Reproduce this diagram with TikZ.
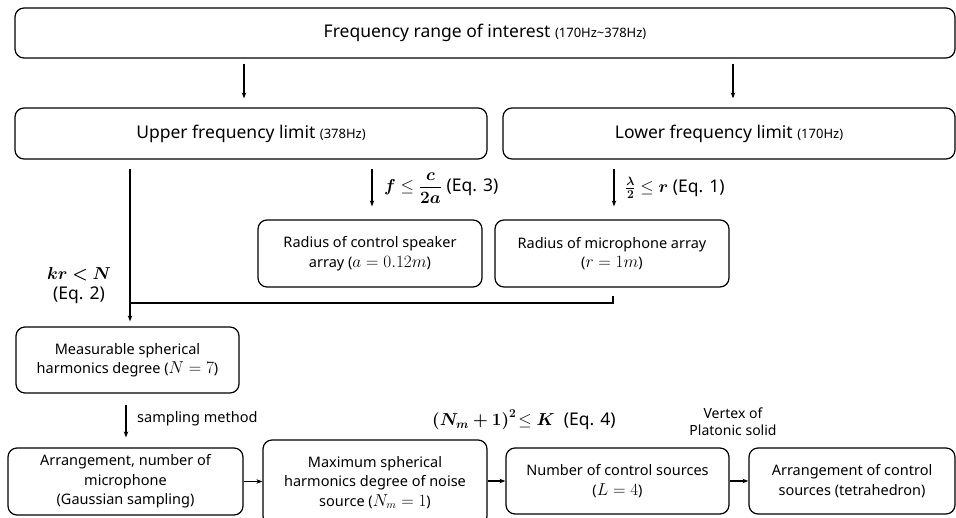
\documentclass[tikz,border=0pt]{standalone}
\usepackage{amsmath}
\usepackage{bm}
\usepackage{fontspec}
\setmainfont{Noto Sans}
\usetikzlibrary{arrows.meta,calc}

\newcommand{\bigtxt}{\fontsize{17.5}{20}\selectfont}
\newcommand{\boxtxt}{\fontsize{14.5}{19.5}\selectfont}
\newcommand{\smalltxt}{\fontsize{13}{14}\selectfont}
% inline math set a little larger than the surrounding text
\newcommand{\bmath}[1]{{\fontsize{16}{19.5}\selectfont$#1$}}
\newcommand{\eqmath}[1]{{\fontsize{18}{20}\selectfont$#1$}}

\begin{document}
\begin{tikzpicture}[x=1pt,y=-1pt,
  stagebox/.style={draw, line width=1.2pt, rounded corners=9pt, align=center,
    inner sep=0pt, font=\boxtxt},
  flowline/.style={line width=1.1pt},
  flowarrow/.style={flowline, -{Stealth[length=6pt,width=4.5pt]}},
  eqlabel/.style={inner sep=0pt, anchor=west, font=\bigtxt}]
\useasboundingbox (0,0) rectangle (956,518);

% boxes
\node[stagebox, minimum width=940, minimum height=50, font=\bigtxt] (top) at (485,33)
  {Frequency range of interest {\smalltxt(170Hz\char`\~378Hz)}};
\node[stagebox, minimum width=472, minimum height=51, font=\bigtxt] (up) at (251,133.5)
  {Upper frequency limit {\smalltxt(378Hz)}};
\node[stagebox, minimum width=452, minimum height=51, font=\bigtxt] (low) at (729,133.5)
  {Lower frequency limit {\smalltxt(170Hz)}};
\node[stagebox, minimum width=224, minimum height=67] (spk) at (370,253.5)
  {Radius of control speaker\\array (\bmath{a=0.12m})};
\node[stagebox, minimum width=234, minimum height=67] (mic) at (612,253.5)
  {Radius of microphone array\\(\bmath{r=1m})};
\node[stagebox, minimum width=223, minimum height=66] (meas) at (127.5,360)
  {Measurable spherical\\harmonics degree (\bmath{N=7})};
\node[stagebox, minimum width=235, minimum height=67] (arrm) at (125.5,481.5)
  {Arrangement, number of\\microphone\\(Gaussian sampling)};
\node[stagebox, minimum width=224, minimum height=85] (maxd) at (375,482.5)
  {Maximum spherical\\harmonics degree of noise\\source (\bmath{N_m=1})};
\node[stagebox, minimum width=223, minimum height=66] (num) at (617.5,481)
  {Number of control sources\\(\bmath{L=4})};
\node[stagebox, minimum width=206, minimum height=66] (arrc) at (852,481)
  {Arrangement of control\\sources (tetrahedron)};

% connector positions
\coordinate (ca) at (244,0);
\coordinate (cb) at (733,0);
\coordinate (cf) at (372,0);
\coordinate (cl) at (614,0);
\coordinate (jl) at (130,303);
\coordinate (jr) at (613,303);
\coordinate (cs) at (126,0);

% connectors
\draw[flowarrow, shorten <=5pt, shorten >=9pt] (top.south -| ca) -- (up.north -| ca);
\draw[flowarrow, shorten <=5pt, shorten >=9pt] (top.south -| cb) -- (low.north -| cb);
\draw[flowarrow, shorten <=9pt, shorten >=13pt] (up.south -| cf) -- (spk.north -| cf);
\draw[flowarrow, shorten <=9pt, shorten >=13pt] (low.south -| cl) -- (mic.north -| cl);
\draw[flowline, shorten <=8pt] (mic.south -| jr) -- (jr) -- (jl);
\draw[flowarrow, shorten <=9pt, shorten >=5pt] (up.south -| jl) -- (meas.north -| jl);
\draw[flowarrow, shorten <=11pt, shorten >=10pt] (meas.south -| cs) -- (arrm.north -| cs);
\draw[flowarrow] (arrm.east) -- (arrm.east -| maxd.west);
\draw[flowarrow] (num.west -| maxd.east) -- (num.west);
\draw[flowarrow] (num.east) -- (arrc.west);

% labels
\node[eqlabel] (eqf) at (384,188)
  {\eqmath{\bm{f}\le\dfrac{\bm{c}}{\bm{2a}}} (Eq. 3)};
\node[eqlabel] (eql) at (625,188)
  {\eqmath{\tfrac{\bm{\lambda}}{\bm{2}}\le\bm{r}} (Eq. 1)};
\node[inner sep=0pt, align=center, font=\bigtxt] (eqk) at (79,286)
  {\eqmath{\bm{kr<N}}\\(Eq. 2)};
\node[inner sep=0pt, anchor=west, font=\boxtxt] (samp) at (137,419) {sampling method};
\node[eqlabel] (eqn) at (432,420)
  {\eqmath{\bm{(N_m+1)^2}\!\le\bm{K}}\; (Eq. 4)};
\node[inner sep=0pt, align=center, font=\fontsize{14}{17}\selectfont] (vert) at (733,421.5)
  {Vertex of\\Platonic solid};
\end{tikzpicture}
\end{document}
